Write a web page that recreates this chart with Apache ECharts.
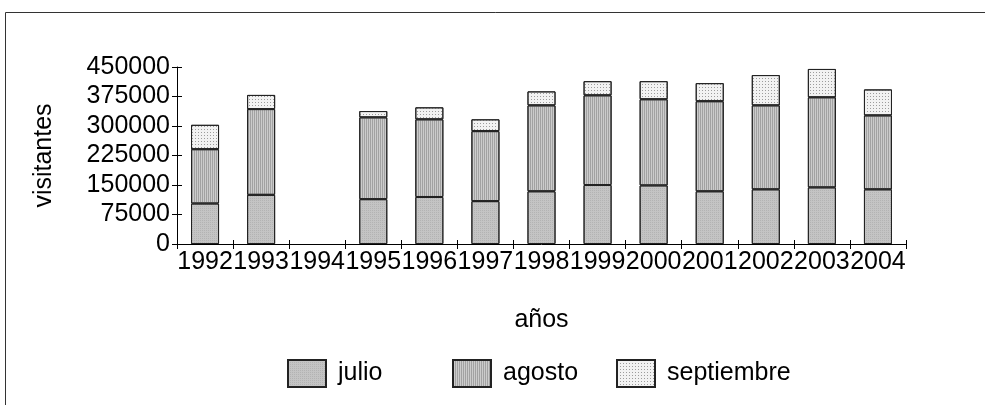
<!DOCTYPE html>
<html>
<head>
<meta charset="utf-8">
<script src="https://cdn.jsdelivr.net/npm/echarts@6/dist/echarts.min.js"></script>
<style>html,body{margin:0;padding:0;background:#fff}#c{width:985px;height:405px}</style>
</head>
<body>
<div id="c"></div>
<script>
const years = ['1992','1993','1994','1995','1996','1997','1998','1999','2000','2001','2002','2003','2004'];
const julio = [103000,125000,null,114000,119500,109000,134000,150000,149000,134000,139000,144000,139000];
const agosto = [138000,218000,null,208000,197500,178000,218500,228000,219000,229000,213500,229000,188000];
const septiembre = [62000,36000,null,16000,30500,30000,35500,36000,46000,46000,77000,72000,66000];
const yTicks = [0,75000,150000,225000,300000,375000,450000];
const seriesNames = ['julio','agosto','septiembre'];

const font = 'Liberation Sans, Arial, sans-serif';
const fs = 25;
const chart = echarts.init(document.getElementById('c'), null, {renderer:'canvas'});
const border = {borderColor:'#222', borderWidth:1};
const legendLefts = [287, 452, 616];
chart.setOption({
  animation:false,
  backgroundColor:'#fff',
  textStyle:{fontFamily:font, color:'#000'},
  graphic:[{type:'rect', shape:{x:5.5, y:12.5, width:1100, height:500}, style:{fill:'none', stroke:'#333', lineWidth:1}, silent:true}],
  grid:{left:177, right:79, top:67, bottom:161},
  legend: seriesNames.map((n,i)=>({
    top:359, left:legendLefts[i], padding:0, itemWidth:38, itemHeight:27, icon:'rect',
    textStyle:{fontFamily:font, fontSize:fs, color:'#000', padding:[0,0,0,7]},
    data:[n]
  })),
  xAxis:[{
    type:'category', data:years, boundaryGap:true,
    name:'años', nameLocation:'middle', nameGap:64,
    nameTextStyle:{fontFamily:font, fontSize:fs, color:'#000'},
    axisLine:{lineStyle:{color:'#000', width:1}},
    axisTick:{show:true, length:5, lineStyle:{color:'#000'}},
    axisLabel:{fontFamily:font, fontSize:fs, color:'#000', margin:6, interval:0, hideOverlap:false},
    splitLine:{show:false}
  },{
    type:'category', data:years, position:'bottom', boundaryGap:true,
    axisLine:{show:false}, axisLabel:{show:false},
    axisTick:{show:true, inside:true, length:4, lineStyle:{color:'#000'}}
  }],
  yAxis:[{
    type:'value', min:0, max:450000, interval:75000,
    name:'visitantes', nameLocation:'middle', nameGap:120,
    nameTextStyle:{fontFamily:font, fontSize:fs, color:'#000'},
    axisLine:{show:true, lineStyle:{color:'#000', width:1}},
    axisTick:{show:true, length:5, lineStyle:{color:'#000'}},
    axisLabel:{fontFamily:font, fontSize:fs, color:'#000', margin:7,
      formatter:v=> yTicks.includes(v) ? String(v) : ''},
    splitLine:{show:false}
  },{
    type:'value', min:0, max:450000, interval:75000, position:'left',
    axisLine:{show:false}, axisLabel:{show:false}, splitLine:{show:false},
    axisTick:{show:true, inside:true, length:5, lineStyle:{color:'#000'}}
  }],
  series:[
    {name:'julio', type:'bar', stack:'t', data:julio, barWidth:'50%',
     itemStyle:Object.assign({color:'#c4c4c4', decal:{symbol:'rect', symbolSize:1, dashArrayX:[1,1], dashArrayY:[1,1], color:'rgba(150,150,150,0.35)'}}, border)},
    {name:'agosto', type:'bar', stack:'t', data:agosto, barWidth:'50%',
     itemStyle:Object.assign({color:'#cccccc', decal:{symbol:'rect', symbolSize:1, dashArrayX:[1,1], dashArrayY:[1,0], color:'rgba(120,120,120,0.5)'}}, border)},
    {name:'septiembre', type:'bar', stack:'t', data:septiembre, barWidth:'50%',
     itemStyle:Object.assign({color:'#f2f2f2', decal:{symbol:'rect', symbolSize:1, dashArrayX:[1,2], dashArrayY:[1,2], color:'rgba(120,120,120,0.7)'}}, border)}
  ]
});
</script>
</body>
</html>
